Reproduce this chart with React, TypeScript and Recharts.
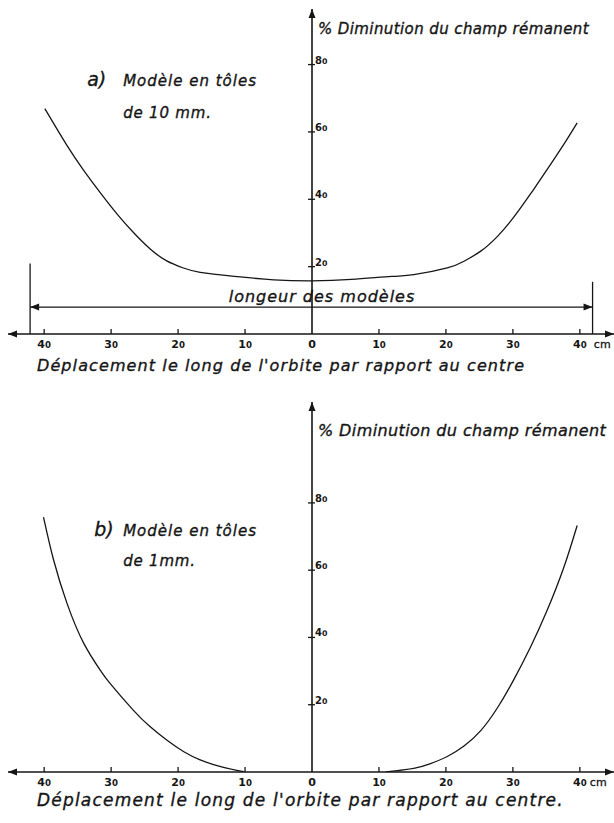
import React from 'react';
import { LineChart, Line, XAxis, YAxis, ReferenceLine, ReferenceDot } from 'recharts';

// Shared axis ticks (cm along the orbit, % loss of remanent field)
const X_TICKS = [-40, -30, -20, -10, 0, 10, 20, 30, 40];
const Y_TICKS = [20, 40, 60, 80];

// a) model built from 10 mm sheets
const POS_A = [-39.9, -36.6, -34.1, -31.6, -29.1, -26.7, -24.2, -21.7, -19.2, -16.7, -11.6, -5.7, 0, 5.9, 11.9, 15.2, 20.2, 22.7, 25.2, 27.7, 30.1, 32.6, 35.1, 37.6, 39.6];
const LOSS_A = [66.9, 56.0, 48.6, 41.9, 35.6, 30.2, 25.3, 21.7, 19.6, 18.3, 17.1, 16.1, 15.8, 16.2, 17.1, 17.6, 19.6, 21.6, 24.6, 29.0, 34.6, 41.5, 48.8, 56.3, 62.7];

// b) model built from 1 mm sheets (the curve lies on the axis between the two branches)
const POS_B = [-40.1, -38.6, -36.6, -34.1, -31.6, -30.1, -26.7, -24.2, -21.7, -19.2, -16.7, -13.5, -10.2, 0, 11, 15.2, 17.7, 20.2, 22.7, 25.2, 27.7, 30.1, 32.6, 35.1, 37.6, 39.6];
const LOSS_B: (number | null)[] = [75.8, 63.1, 50.2, 38.3, 30.2, 26.2, 18.4, 13.5, 9.5, 6.1, 3.6, 1.5, 0.1, null, 0, 1.1, 2.5, 4.6, 7.7, 12.3, 19.1, 27.3, 37.0, 48.0, 60.8, 73.3];

// Extent of the models (dimension line in panel a)
const MODEL_ENDS = [-42.1, 41.9];
const MODEL_END_HEIGHTS = [20.9, 15.5];
const MODEL_SPAN_LEVEL = 8;

const X_TITLE = "Déplacement le long de l'orbite par rapport au centre";
const Y_TITLE = '% Diminution du champ rémanent';

const INK = '#161616';
const HAND = '"DejaVu Sans", "Liberation Sans", sans-serif';
const X_MIN = -45.4;
const X_MAX = 45.1;

const toRows = (xs: number[], ys: (number | null)[]) => xs.map((x, i) => ({ x, y: ys[i] }));

// Pen lettering: italic with a slightly thickened stroke
const lettering = {
  fontFamily: HAND,
  fontStyle: 'italic' as const,
  fill: INK,
  stroke: INK,
  strokeWidth: 0.35,
};

// Numerals in lettering-guide style: the trailing zero is a small "o"
function Numeral({ value, size }: { value: number; size: number }) {
  const s = String(Math.abs(value));
  if (s === '0') return <tspan>0</tspan>;
  return (
    <>
      <tspan>{s.slice(0, -1)}</tspan>
      <tspan fontSize={size * 0.78}>0</tspan>
    </>
  );
}

const makeXTick = (cmDx: number) => (props: any) => {
  const { x, y, payload } = props;
  const v = payload.value as number;
  const last = v === X_TICKS[X_TICKS.length - 1];
  return (
    <g>
      {v !== 0 && <line x1={x} x2={x} y1={y} y2={y - 5} stroke={INK} strokeWidth={1.3} />}
      <text x={x} y={y + 14} textAnchor="middle" fontFamily={HAND} fontWeight="bold" fontSize={11} fill={INK}>
        <Numeral value={v} size={11} />
      </text>
      {last && (
        <text x={x + cmDx} y={y + 14} fontFamily={HAND} fontSize={11} fill={INK} stroke={INK} strokeWidth={0.3}>
          cm
        </text>
      )}
    </g>
  );
};

const arrowLeft = (p: any) => <path d={`M${p.cx},${p.cy} l9,-3.5 l0,7 z`} fill={INK} stroke="none" />;
const arrowRight = (p: any) => <path d={`M${p.cx},${p.cy} l-9,-3.5 l0,7 z`} fill={INK} stroke="none" />;
const arrowUp = (p: any) => <path d={`M${p.cx},${p.cy} l-3.5,9 l7,0 z`} fill={INK} stroke="none" />;

type PanelProps = {
  top: number;
  height: number;
  marginTop: number;
  yMax: number;
  rows: { x: number; y: number | null }[];
  prefix: string;
  lines: [string, string];
  annot: { x: number; y: number; prefixDx: number; line2Dy: number };
  yTitleDy: number;
  yTitleSize: number;
  xTitle: string;
  xTitleDy: number;
  xTitleSize: number;
  xTitleSpacing: number;
  cmDx: number;
  extras?: React.ReactNode[];
};

function Panel(p: PanelProps) {
  return (
    <div style={{ position: 'absolute', left: 0, top: p.top }}>
      <LineChart width={614} height={p.height} data={p.rows} margin={{ top: p.marginTop, right: 0, bottom: 0, left: 8 }}>
        <XAxis
          type="number"
          dataKey="x"
          domain={[X_MIN, X_MAX]}
          ticks={X_TICKS}
          interval={0}
          allowDataOverflow
          height={46}
          tickSize={0}
          tickMargin={0}
          tickLine={false}
          axisLine={{ stroke: INK, strokeWidth: 1.6 }}
          tick={makeXTick(p.cmDx)}
          label={(lp: any) => (
            <text
              x={lp.viewBox.x + 29}
              y={lp.viewBox.y + p.xTitleDy}
              fontSize={p.xTitleSize}
              letterSpacing={p.xTitleSpacing}
              {...lettering}
            >
              {p.xTitle}
            </text>
          )}
        />
        <YAxis type="number" domain={[0, p.yMax]} hide allowDataOverflow />
        <ReferenceLine x={0} stroke={INK} strokeWidth={1.6} ifOverflow="visible" />
        <ReferenceDot x={X_MIN} y={0} r={0} ifOverflow="visible" shape={arrowLeft} />
        <ReferenceDot x={X_MAX} y={0} r={0} ifOverflow="visible" shape={arrowRight} />
        <ReferenceDot
          x={0}
          y={p.yMax}
          r={0}
          ifOverflow="visible"
          shape={(d: any) => (
            <g>
              {arrowUp(d)}
              <text x={d.cx + 6} y={d.cy + p.yTitleDy} fontSize={p.yTitleSize} letterSpacing={0.4} {...lettering}>
                {Y_TITLE}
              </text>
            </g>
          )}
        />
        {Y_TICKS.map((v) => (
          <ReferenceDot
            key={`yt${v}`}
            x={0}
            y={v}
            r={0}
            ifOverflow="visible"
            shape={(d: any) => (
              <g>
                <line x1={d.cx - 4} x2={d.cx + 3} y1={d.cy} y2={d.cy} stroke={INK} strokeWidth={1.3} />
                <text x={d.cx + 3} y={d.cy - 1} fontFamily={HAND} fontWeight="bold" fontSize={10} fill={INK}>
                  <Numeral value={v} size={10} />
                </text>
              </g>
            )}
          />
        ))}
        <ReferenceDot
          x={p.annot.x}
          y={p.annot.y}
          r={0}
          ifOverflow="visible"
          shape={(d: any) => (
            <g>
              <text x={d.cx + p.annot.prefixDx} y={d.cy} fontSize={19} {...lettering}>
                {p.prefix}
              </text>
              <text x={d.cx} y={d.cy} fontSize={15} letterSpacing={1} {...lettering}>
                {p.lines[0]}
              </text>
              <text x={d.cx} y={d.cy + p.annot.line2Dy} fontSize={15} letterSpacing={0.8} {...lettering}>
                {p.lines[1]}
              </text>
            </g>
          )}
        />
        {p.extras}
        <Line
          type="natural"
          dataKey="y"
          stroke={INK}
          strokeWidth={1.3}
          dot={false}
          activeDot={false}
          connectNulls={false}
          isAnimationActive={false}
        />
      </LineChart>
    </div>
  );
}

export default function App() {
  const modelSpan = [
    <ReferenceLine
      key="endL"
      segment={[{ x: MODEL_ENDS[0], y: 0 }, { x: MODEL_ENDS[0], y: MODEL_END_HEIGHTS[0] }]}
      stroke={INK}
      strokeWidth={1.3}
      ifOverflow="visible"
    />,
    <ReferenceLine
      key="endR"
      segment={[{ x: MODEL_ENDS[1], y: 0 }, { x: MODEL_ENDS[1], y: MODEL_END_HEIGHTS[1] }]}
      stroke={INK}
      strokeWidth={1.3}
      ifOverflow="visible"
    />,
    <ReferenceLine
      key="span"
      segment={[{ x: MODEL_ENDS[0], y: MODEL_SPAN_LEVEL }, { x: MODEL_ENDS[1], y: MODEL_SPAN_LEVEL }]}
      stroke={INK}
      strokeWidth={1.3}
      ifOverflow="visible"
    />,
    <ReferenceDot key="spanL" x={MODEL_ENDS[0]} y={MODEL_SPAN_LEVEL} r={0} ifOverflow="visible" shape={arrowLeft} />,
    <ReferenceDot key="spanR" x={MODEL_ENDS[1]} y={MODEL_SPAN_LEVEL} r={0} ifOverflow="visible" shape={arrowRight} />,
    <ReferenceDot
      key="spanText"
      x={0}
      y={MODEL_SPAN_LEVEL}
      r={0}
      ifOverflow="visible"
      shape={(d: any) => (
        <text x={d.cx + 10} y={d.cy - 5} textAnchor="middle" fontSize={16} letterSpacing={1} {...lettering}>
          longeur des modèles
        </text>
      )}
    />,
  ];

  return (
    <div style={{ position: 'absolute', left: 0, top: 0, width: 614, height: 823, background: '#fff', overflow: 'hidden' }}>
      <Panel
        top={0}
        height={380}
        marginTop={9}
        yMax={96.5}
        rows={toRows(POS_A, LOSS_A)}
        prefix="a)"
        lines={['Modèle en tôles', 'de 10 mm.']}
        annot={{ x: -28.2, y: 73.6, prefixDx: -36, line2Dy: 32 }}
        yTitleDy={25}
        yTitleSize={15}
        xTitle={X_TITLE}
        xTitleDy={37}
        xTitleSize={16}
        xTitleSpacing={1.1}
        cmDx={14}
        extras={modelSpan}
      />
      <Panel
        top={400}
        height={418}
        marginTop={2}
        yMax={110}
        rows={toRows(POS_B, LOSS_B)}
        prefix="b)"
        lines={['Modèle en tôles', 'de 1mm.']}
        annot={{ x: -28.2, y: 70.2, prefixDx: -29, line2Dy: 30 }}
        yTitleDy={34}
        yTitleSize={16}
        xTitle={X_TITLE + '.'}
        xTitleDy={34}
        xTitleSize={17}
        xTitleSpacing={1.2}
        cmDx={10}
      />
    </div>
  );
}
